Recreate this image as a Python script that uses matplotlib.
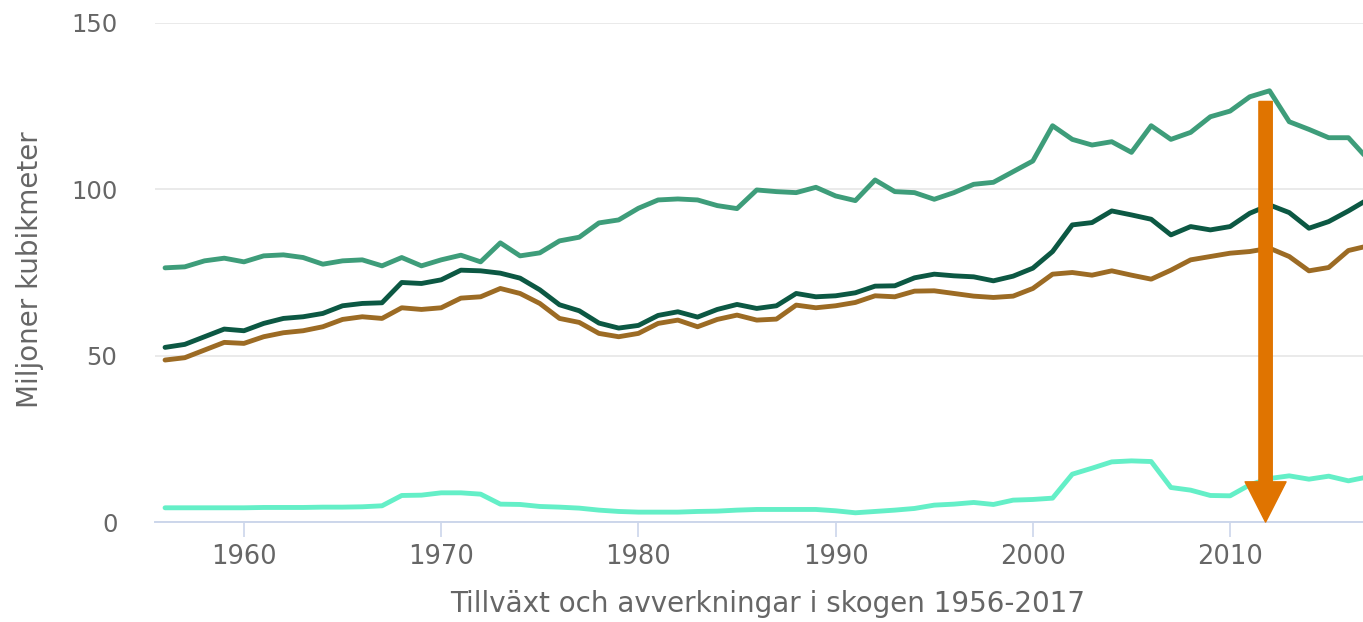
"""Tillväxt och avverkningar i skogen 1956-2017 (line chart with annotation arrow)."""

import matplotlib

matplotlib.use("Agg")
import matplotlib.pyplot as plt
import numpy as np
from matplotlib.patches import FancyArrowPatch

years = np.arange(1956, 2018)

tillvaxt = [
    76.4, 76.7, 78.5, 79.3, 78.2, 80.0, 80.3, 79.5, 77.5, 78.5,
    78.8, 77.0, 79.5, 77.0, 78.8, 80.2, 78.2, 83.9, 80.0, 80.9,
    84.5, 85.6, 89.9, 90.8, 94.3, 96.8, 97.1, 96.8, 95.1, 94.2,
    99.8, 99.3, 99.0, 100.6, 98.0, 96.6, 102.8, 99.3, 99.0, 97.0,
    99.0, 101.5, 102.1, 105.3, 108.5, 119.1, 115.0, 113.3, 114.3, 111.1,
    119.1, 115.0, 117.1, 121.8, 123.5, 127.8, 129.6, 120.3, 118.0, 115.5,
    115.5, 109.0,
]
brutto = [
    52.5, 53.4, 55.7, 58.0, 57.5, 59.7, 61.2, 61.7, 62.7, 65.0,
    65.7, 65.9, 72.0, 71.7, 72.8, 75.7, 75.5, 74.8, 73.3, 69.8,
    65.3, 63.5, 59.8, 58.3, 59.1, 62.1, 63.2, 61.6, 63.9, 65.4,
    64.2, 65.0, 68.7, 67.7, 68.0, 68.9, 70.9, 71.0, 73.4, 74.5,
    74.0, 73.7, 72.5, 73.9, 76.3, 81.3, 89.3, 90.0, 93.5, 92.3,
    91.0, 86.3, 88.8, 87.8, 88.8, 92.8, 95.3, 93.0, 88.3, 90.3,
    93.5, 97.0,
]
netto = [
    48.7, 49.4, 51.7, 54.0, 53.7, 55.7, 56.9, 57.5, 58.7, 60.9,
    61.7, 61.2, 64.4, 63.9, 64.4, 67.3, 67.7, 70.2, 68.7, 65.7,
    61.2, 60.0, 56.7, 55.7, 56.7, 59.7, 60.7, 58.7, 60.9, 62.2,
    60.7, 61.0, 65.2, 64.4, 65.0, 66.0, 68.0, 67.7, 69.4, 69.5,
    68.7, 67.9, 67.5, 67.9, 70.2, 74.5, 75.0, 74.2, 75.5, 74.2,
    73.0, 75.7, 78.8, 79.8, 80.8, 81.3, 82.3, 79.8, 75.5, 76.5,
    81.6, 83.0,
]
skillnad = [
    4.3, 4.3, 4.3, 4.3, 4.3, 4.4, 4.4, 4.4, 4.5, 4.5,
    4.6, 4.9, 8.0, 8.1, 8.8, 8.8, 8.4, 5.4, 5.3, 4.7,
    4.5, 4.2, 3.6, 3.2, 3.0, 3.0, 3.0, 3.2, 3.3, 3.6,
    3.8, 3.8, 3.8, 3.8, 3.4, 2.8, 3.2, 3.6, 4.1, 5.1,
    5.4, 5.9, 5.3, 6.6, 6.8, 7.2, 14.4, 16.2, 18.1, 18.4,
    18.2, 10.4, 9.6, 8.0, 7.9, 11.2, 13.1, 13.9, 12.9, 13.8,
    12.4, 13.6,
]

series = [
    (tillvaxt, "#3e9d7a"),
    (brutto, "#0c5843"),
    (netto, "#9c6b24"),
    (skillnad, "#64efc7"),
]

arrow_year = 2011.8
arrow_from, arrow_to = 126.4, 0.0

text_grey = "#666666"

fig = plt.figure(figsize=(13.63, 6.22), dpi=100)
ax = fig.add_axes([155 / 1363, 0.1606, 1 - 155 / 1363, 0.8026])

for values, color in series:
    ax.plot(years, values, color=color, lw=3.5, solid_joinstyle="round",
            solid_capstyle="round", zorder=3)

ax.set_xlim(1955.49, 2016.74)
ax.set_ylim(0, 150)
ax.set_yticks([0, 50, 100, 150])
ax.set_xticks(range(1960, 2020, 10))

ax.grid(axis="y", color="#e6e6e6", lw=1.2)
ax.set_axisbelow(True)
for side in ("top", "right", "left"):
    ax.spines[side].set_visible(False)
ax.spines["bottom"].set_color("#ccd6eb")
ax.spines["bottom"].set_linewidth(1.4)

ax.tick_params(axis="y", length=0, pad=27, labelsize=17.5, labelcolor=text_grey)
ax.tick_params(axis="x", length=11, width=1.2, color="#ccd6eb", pad=5,
               labelsize=18.5, labelcolor=text_grey)

arrow = FancyArrowPatch(
    (arrow_year, arrow_from), (arrow_year, arrow_to),
    arrowstyle="simple,head_length=29,head_width=29.5,tail_width=9.6",
    color="#e07400", shrinkA=0, shrinkB=0, zorder=5, clip_on=False,
)
ax.add_patch(arrow)

fig.text(768 / 1363, 1 - 604 / 622, "Tillväxt och avverkningar i skogen 1956-2017",
         ha="center", va="center", fontsize=20, color=text_grey)
fig.text(30 / 1363, 1 - 270 / 622, "Miljoner kubikmeter", rotation=90,
         ha="center", va="center", fontsize=20, color=text_grey)

fig.savefig("out.png", dpi=100)
